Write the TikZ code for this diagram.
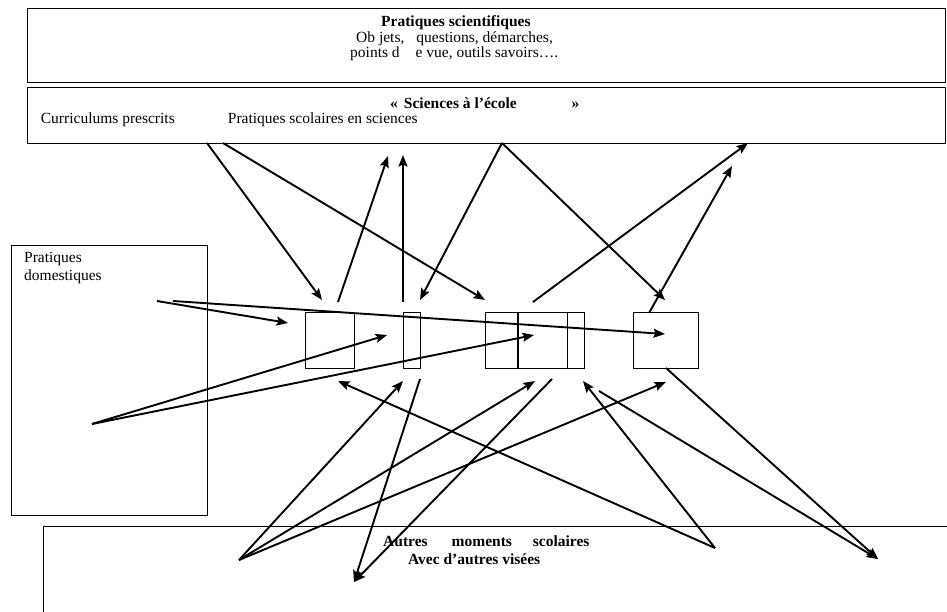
\documentclass[tikz,border=0pt]{standalone}
\usepackage{fontspec}
\setmainfont{Liberation Serif}
\usetikzlibrary{arrows.meta}
\begin{document}
\begin{tikzpicture}[x=1pt,y=-1pt,
  box/.style={draw, line width=1.1pt, inner sep=0pt, anchor=north west},
  arr/.style={line width=1.9pt, -{Stealth[length=11.5pt,width=9pt,inset=2pt]}},
  txt/.style={inner sep=0pt, font=\fontsize{15.5}{15.5}\selectfont, anchor=west},
  btxt/.style={inner sep=0pt, font=\fontsize{15.5}{15.5}\selectfont\bfseries, anchor=west}]
\useasboundingbox (0,0) rectangle (947,612);
\fill[white] (0,0) rectangle (947,612);
\clip (0,0) rectangle (947,612);
% boxes
\node[box, minimum width=918.3pt, minimum height=74pt] (sci) at (26.7,8.3) {};
\node[box, minimum width=918.3pt, minimum height=56pt] (ecole) at (26.7,86.7) {};
\node[box, minimum width=196pt, minimum height=269.8pt] (dom) at (10.7,244.7) {};
\node[box, minimum width=930pt, minimum height=110pt] (autres) at (43,526) {};
\node[box, minimum width=49pt, minimum height=56.3pt] (b1) at (305.3,311.7) {};
\node[box, minimum width=16.4pt, minimum height=56.3pt] (b2) at (403.3,311.7) {};
\node[box, minimum width=98.4pt, minimum height=56.3pt] (b3) at (485.3,311.7) {};
\node[box, minimum width=65.6pt, minimum height=56.3pt] (b4) at (632.7,311.7) {};
\draw[line width=1.1pt] (518,311.7) -- (518,368);
\draw[line width=1.1pt] (567.3,311.7) -- (567.3,368);
% texts
\node[btxt] (t1) at (381,23) {Pratiques scientifiques};
\node[txt] (t2) at (356,38.5) {Ob jets,\hspace{12pt}questions, démarches,};
\node[txt] (t3) at (350,54) {points d\hspace{16pt}e vue, outils savoirs….};
\node[btxt] (t4) at (390,102.7) {«\hspace{6pt}Sciences à l’école\hspace{55pt}»};
\node[txt] (t5) at (40.7,120) {Curriculums prescrits};
\node[txt] (t6) at (227.7,120) {Pratiques scolaires en sciences};
\node[txt] (t7) at (24,259) {Pratiques};
\node[txt] (t8) at (24,277) {domestiques};
\node[btxt] (t9) at (383,541.7) {Autres\hspace{24pt}moments\hspace{21pt}scolaires};
\node[btxt] (t10) at (408,559.3) {Avec d’autres visées};
% endpoints
\coordinate (ta) at (207,143);
\coordinate (tb) at (223,143);
\coordinate (tc) at (502,143);
\coordinate (ua) at (322,300);
\coordinate (ub) at (485,300);
\coordinate (uc) at (338,302);
\coordinate (ud) at (388,156);
\coordinate (ue) at (403,302);
\coordinate (uf) at (403,155);
\coordinate (ug) at (420,300);
\coordinate (uh) at (665,300);
\coordinate (ui) at (533,302);
\coordinate (uj) at (748,143);
\coordinate (uk) at (649,313);
\coordinate (ul) at (732,166);
\coordinate (da) at (157,301);
\coordinate (db) at (173,301);
\coordinate (dc) at (92,424);
\coordinate (ea) at (288,323);
\coordinate (eb) at (665,334);
\coordinate (ec) at (387,335);
\coordinate (ed) at (534,335);
\coordinate (A1) at (239,560);
\coordinate (A2) at (354,582);
\coordinate (A3) at (715,548);
\coordinate (A4) at (878,559);
\coordinate (fa) at (403,381);
\coordinate (fb) at (535,381);
\coordinate (fc) at (666,382);
\coordinate (fd) at (420,379);
\coordinate (fe) at (552,379);
\coordinate (ff) at (338,381);
\coordinate (fg) at (583,381);
\coordinate (fh) at (599,391);
\coordinate (fi) at (666,368);
% top arrows
\draw[arr] (ta) -- (ua);
\draw[arr] (tb) -- (ub);
\draw[arr] (uc) -- (ud);
\draw[arr] (ue) -- (uf);
\draw[arr] (tc) -- (ug);
\draw[arr] (tc) -- (uh);
\draw[arr] (ui) -- (uj);
\draw[arr] (uk) -- (ul);
% domestic arrows
\draw[arr] (da) -- (ea);
\draw[arr] (db) -- (eb);
\draw[arr] (dc) -- (ec);
\draw[arr] (dc) -- (ed);
% bottom arrows
\draw[arr] (A1) -- (fa);
\draw[arr] (A1) -- (fb);
\draw[arr] (A1) -- (fc);
\draw[arr] (fd) -- (A2);
\draw[arr] (fe) -- (A2);
\draw[arr] (A3) -- (ff);
\draw[arr] (A3) -- (fg);
\draw[arr] (fh) -- (A4);
\draw[arr] (fi) -- (A4);
\end{tikzpicture}
\end{document}
